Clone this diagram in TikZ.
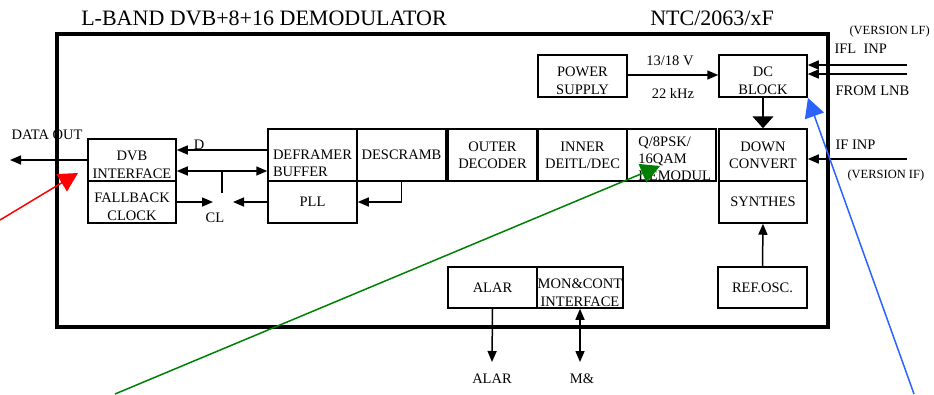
\documentclass[tikz,border=0pt]{standalone}
\usepackage{fontspec}
\setmainfont{Liberation Serif}
\usetikzlibrary{positioning, arrows.meta, calc}
\definecolor{notered}{HTML}{FF0000}
\definecolor{notegreen}{HTML}{008000}
\definecolor{noteblue}{HTML}{2B63FF}

\begin{document}
\begin{tikzpicture}[
      x=1pt, y=-1pt,
      every node/.style={font=\fontsize{14.5}{17}\selectfont},
      blk/.style={draw, line width=1.5pt, minimum width=89pt, minimum height=42pt, inner sep=0pt, align=center},
      tall/.style={blk, minimum height=52pt},
      twoline/.style={label={[align=center, yshift=-5pt, font=\fontsize{14.5}{17.5}\selectfont]center:#1}},
      small/.style={font=\fontsize{12.5}{14}\selectfont},
      arr/.style={line width=1.5pt, -{Triangle[length=11pt,width=9pt]}},
      dblarr/.style={line width=1.5pt, {Triangle[length=11pt,width=9pt]}-{Triangle[length=11pt,width=9pt]}},
      note/.style={line width=1.5pt, -{Triangle[length=19pt,width=20pt]}},
    ]
    \useasboundingbox (0,0) rectangle (934,394);

    % Titles
    \node[font=\fontsize{22}{24}\selectfont, anchor=base] (title) at (264,25) {L-BAND DVB+8+16 DEMODULATOR};
    \node[font=\fontsize{22}{24}\selectfont, anchor=base] (code) at (712,25) {NTC/2063/xF};

    % Board outline
    \draw[line width=3.5pt] (57,34) rectangle (828,327);

    % Upper row
    \node[blk, twoline={POWER\\SUPPLY}] (power) at (582.5,76) {};
    \node[blk, minimum width=88pt, twoline={DC\\BLOCK}] (dcblock) at (763,76) {};
    % Main chain
    \node[blk, minimum width=88pt, twoline={DVB\\INTERFACE}] (dvb) at (132,160) {};
    \node[blk, minimum width=88pt, twoline={FALLBACK\\CLOCK}] (fallback) at (132,202) {};
    \node[tall, label={[align=left, yshift=-8pt]center:DEFRAMER\\BUFFER}] (deframer) at (312.5,155) {};
    \node[blk] (pll) at (312.5,202) {PLL};
    \node[tall] (descramb) at (401.5,155) {DESCRAMB};
    \node[tall] (outer) at (492.5,155) {OUTER\\DECODER};
    \node[tall] (inner) at (582.5,155) {INNER\\DEITL/DEC};
    \node[tall, label={[name=qpsktxt, anchor=north west, align=left, inner sep=0pt, xshift=12pt, yshift=-8pt, font=\fontsize{14.5}{17}\selectfont]north west:Q/8PSK/\\16QAM\\DEMODUL}] (qpsk) at (671.5,155) {};
    \node[tall, minimum width=88pt] (downconv) at (763,155) {DOWN\\CONVERT};
    \node[blk, minimum width=88pt] (synthes) at (763,202) {SYNTHES};
    % Lower row
    \node[blk, minimum height=41pt] (alar) at (492.5,287.5) {ALAR};
    \node[blk, minimum height=41pt, minimum width=86pt, twoline={MON\&CONT\\INTERFACE}] (moncont) at (580,287.5) {};
    \node[blk, minimum height=41pt] (refosc) at (762.5,287.5) {REF.OSC.};

    % Free ends
    \coordinate (dataout) at (10,160);
    \coordinate (clin) at (213,202);
    \coordinate (clout) at (233,202);
    \coordinate (tick) at (222,193);
    \coordinate (lfa) at (907,65);
    \coordinate (lfb) at (907,74);
    \coordinate (ifa) at (907,159);
    \coordinate (alarout) at (492,362);
    \coordinate (monout) at (580,362);

    % Data path
    \draw[arr] (dvb.west) -- (dataout);
    \draw[arr] (deframer.west |- 0,150) -- (dvb.east |- 0,150);
    \draw[dblarr] (dvb.east |- 0,171) -- (deframer.west |- 0,171);
    \draw[line width=1.5pt] ($(dvb.east |- 0,171)!0.5!(deframer.west |- 0,171)$) -- (tick);
    \draw[arr] (fallback.east) -- (clin);
    \draw[arr] (pll.west) -- (clout);
    \draw[arr] (descramb.south) |- (pll.east);

    % Power and inputs
    \draw[arr] (power.east |- 0,75) -- (dcblock.west |- 0,75);
    \draw[line width=1.5pt, -{Triangle[length=12pt,width=21pt]}] (dcblock.south) -- (downconv.north);
    \draw[arr] (lfa) -- (dcblock.east |- lfa);
    \draw[arr] (lfb) -- (dcblock.east |- lfb);
    \draw[arr] (ifa) -- (downconv.east |- ifa);
    \draw[arr] (refosc.north) -- (synthes.south);
    \draw[arr] (alar.south) -- (alarout);
    \draw[dblarr] (moncont.south) -- (monout);

    % Labels
    \node (dataoutlbl) at (47,135) {DATA OUT};
    \node (dlbl) at (199,145) {D};
    \node (cllbl) at (215,218) {CL};
    \node (voltlbl) at (670,61) {13/18 V};
    \node (freqlbl) at (673,93) {22 kHz};
    \node[small, anchor=west] (verlf) at (846,31) {(VERSION LF)};
    \node[anchor=west] (ifllbl) at (831,49) {IFL\ \ INP};
    \node[anchor=west] (lnblbl) at (832,91) {FROM LNB};
    \node[anchor=west] (iflbl) at (832,145) {IF INP};
    \node[small, anchor=west] (verif) at (844,175) {(VERSION IF)};
    \node (alarlbl) at (492,379) {ALAR};
    \node (monlbl) at (582,379) {M\&};

    % Pointer arrows
    \coordinate (redfrom) at (0,220);
    \coordinate (redto) at (78,173);
    \coordinate (greenfrom) at (115,394);
    \coordinate (greento) at (660,166);
    \coordinate (bluefrom) at (914,394);
    \coordinate (blueto) at (808,98);
    \draw[note, notered] (redfrom) -- (redto);
    \draw[note, notegreen] (greenfrom) -- (greento);
    \draw[note, noteblue] (bluefrom) -- (blueto);
  \end{tikzpicture}
\end{document}
